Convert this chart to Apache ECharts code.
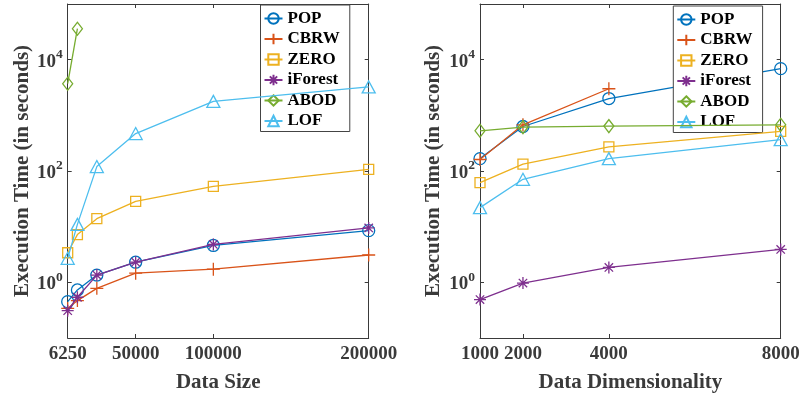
<!DOCTYPE html>
<html><head><meta charset="utf-8">
<script src="https://cdn.jsdelivr.net/npm/echarts@6/dist/echarts.min.js"></script>
<style>html,body{margin:0;padding:0;background:#fff}#c{width:803px;height:398px}</style>
</head><body><div id="c"></div>
<script>
// ---- data ----
const seriesNames = ['POP', 'CBRW', 'ZERO', 'iForest', 'ABOD', 'LOF'];
const sizeX = [6250, 12500, 25000, 50000, 100000, 200000];
const sizePOP = [0.45, 0.73, 1.35, 2.3, 4.6, 8.5];
const sizeCBRW = [0.34, 0.47, 0.78, 1.46, 1.72, 3.1];
const sizeZERO = [3.4, 7.2, 13.9, 28.4, 53, 107];
const sizeIForest = [0.31, 0.54, 1.35, 2.3, 4.8, 9.5];
const sizeABOD = [3700, 36000, null, null, null, null];
const sizeLOF = [2.7, 11, 120, 470, 1780, 3240];
const sizeTicks = [6250, 50000, 100000, 200000];

const dimX = [1000, 2000, 4000, 8000];
const dimPOP = [167, 630, 2000, 6900];
const dimCBRW = [161, 675, 3000, null];
const dimZERO = [62, 133, 271, 513];
const dimIForest = [0.49, 0.97, 1.85, 3.9];
const dimABOD = [527, 614, 640, 675];
const dimLOF = [22, 71, 167, 365];
const dimTicks = [1000, 2000, 4000, 8000];

const yTicks = [1, 100, 10000];

// ---- styles ----
const colors = ['#0072BD', '#D95319', '#EDB120', '#7E2F8E', '#77AC30', '#4DBEEE'];
const symbols = ['circle', 'path://M0,-10L0,10M-10,0L10,0', 'rect',
  'path://M0,-10L0,10M-10,0L10,0M-7,-7L7,7M-7,7L7,-7', 'diamond', 'triangle'];
const symSizes = [12, 13, 10, 12, [10, 13], [13, 12]];
const axisColor = '#3a3a3a';
const serif = '"Liberation Serif", "Times New Roman", serif';

function mkSeries(xs, ys, xi, yi) {
  return seriesNames.map((n, k) => ({
    name: n, type: 'line', xAxisIndex: xi, yAxisIndex: yi,
    data: xs.map((x, i) => [x, ys[k][i]]),
    symbol: symbols[k], symbolSize: symSizes[k], showSymbol: true,
    lineStyle: { color: colors[k], width: 1.3 },
    itemStyle: { color: 'transparent', borderColor: colors[k], borderWidth: 1.3 },
    emphasis: { disabled: true }, z: 2 + k, animation: false
  }));
}

const yLabel = {
  customValues: yTicks,
  formatter: v => '{b|10}{s|' + Math.round(Math.log10(v)) + '}',
  rich: {
    b: { fontFamily: serif, fontWeight: 'bold', fontSize: 19, lineHeight: 19, color: axisColor, padding: [4, 0, 0, 0] },
    s: { fontFamily: serif, fontWeight: 'bold', fontSize: 13.5, lineHeight: 13, color: axisColor, padding: [0, 0, 10, 0] }
  }
};
const axLine = { show: true, lineStyle: { color: axisColor, width: 1 } };
const nameStyle = { fontFamily: serif, fontWeight: 'bold', fontSize: 21, color: axisColor };

function xAx(grid, min, max, ticks, name, top) {
  return {
    type: 'value', gridIndex: grid, min: min, max: max, position: top ? 'top' : 'bottom',
    axisLine: axLine, splitLine: { show: false },
    axisTick: { show: true, inside: true, length: 4, customValues: ticks, lineStyle: { color: axisColor } },
    axisLabel: top ? { show: false } : { customValues: ticks, formatter: v => String(v), margin: 7, fontFamily: serif, fontWeight: 'bold', fontSize: 19, color: axisColor },
    name: top ? '' : name, nameLocation: 'middle', nameGap: 34, nameTextStyle: nameStyle
  };
}
function yAx(grid, right, gap) {
  return {
    type: 'log', logBase: 10, gridIndex: grid, min: 0.1, max: 100000, position: right ? 'right' : 'left',
    axisLine: axLine, splitLine: { show: false }, minorTick: { show: false },
    axisTick: { show: true, inside: true, length: 4, customValues: yTicks, lineStyle: { color: axisColor } },
    axisLabel: right ? { show: false } : Object.assign({ margin: 5 }, yLabel),
    name: right ? '' : 'Execution Time (in seconds)', nameLocation: 'middle', nameGap: gap, nameTextStyle: nameStyle
  };
}

const legendBase = {
  orient: 'vertical', itemWidth: 18, itemHeight: 13, itemGap: 3.5,
  padding: [5, 10, 2, 3], borderColor: '#444', borderWidth: 1, backgroundColor: '#fff',
  borderRadius: 0, selectedMode: false,
  textStyle: { fontFamily: serif, fontWeight: 'bold', fontSize: 17, lineHeight: 17, color: '#000' },
  data: seriesNames
};

const chart = echarts.init(document.getElementById('c'), null, { renderer: 'canvas' });
chart.setOption({
  backgroundColor: '#fff',
  animation: false,
  grid: [
    { left: 67.7, right: 434.3, top: 4, bottom: 56.3 },
    { left: 480, right: 22.3, top: 4, bottom: 56.3 }
  ],
  legend: [
    Object.assign({}, legendBase, { left: 260.5, top: 5 }),
    Object.assign({}, legendBase, { left: 673.3, top: 6 })
  ],
  xAxis: [
    xAx(0, 6250, 200000, sizeTicks, 'Data Size', false),
    xAx(0, 6250, 200000, sizeTicks, '', true),
    xAx(1, 1000, 8000, dimTicks, 'Data Dimensionality', false),
    xAx(1, 1000, 8000, dimTicks, '', true)
  ],
  yAxis: [
    yAx(0, false, 34.5),
    yAx(0, true, 0),
    yAx(1, false, 36),
    yAx(1, true, 0)
  ],
  series: [].concat(
    mkSeries(sizeX, [sizePOP, sizeCBRW, sizeZERO, sizeIForest, sizeABOD, sizeLOF], 0, 0),
    mkSeries(dimX, [dimPOP, dimCBRW, dimZERO, dimIForest, dimABOD, dimLOF], 2, 2)
  )
});
</script></body></html>
